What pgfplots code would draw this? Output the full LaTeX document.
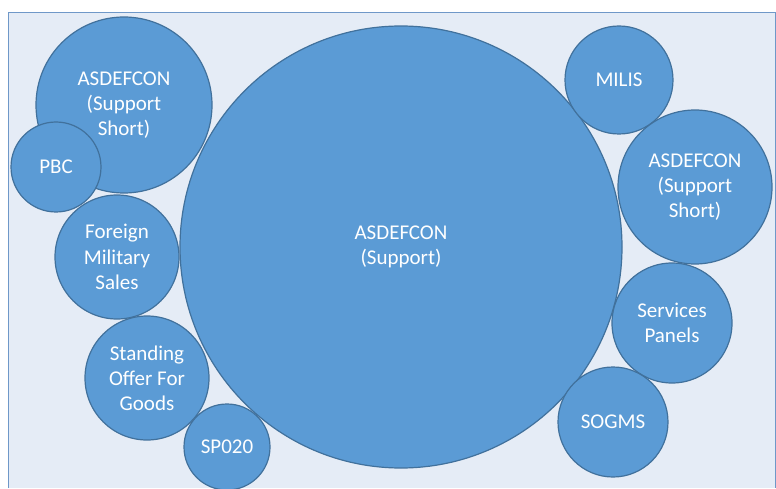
\documentclass[border=0pt]{standalone}
\usepackage{pgfplots}
\pgfplotsset{compat=1.18}
\usepackage{fontspec}
\setmainfont{Carlito}
\definecolor{bubfill}{HTML}{5B9BD5}
\definecolor{bubdraw}{HTML}{41719C}
\definecolor{bgcol}{HTML}{E5ECF6}
\definecolor{framecol}{HTML}{6F98C8}
\pgfplotsset{
  bub/.style 2 args={only marks, mark=*, mark size=#1,
    mark options={fill=bubfill, draw=bubdraw, line width=0.6pt},
    nodes near coords={#2},
    every node near coord/.append style={anchor=center, align=center,
      text=white, font=\fontsize{10.5}{12.6}\selectfont, xshift=0pt, yshift=0pt, inner sep=0pt}},
}
\begin{document}
\begin{tikzpicture}
\begin{axis}[
  name=ax,
  scale only axis, width=388pt, height=244pt,
  xmin=0, xmax=776, ymin=0, ymax=488,
  hide axis, clip marker paths=true,
]
\fill[bgcol] (axis cs:8,0) rectangle (axis cs:776,476);
\draw[framecol, line width=0.8pt] (axis cs:8.5,0) -- (axis cs:8.5,475.5) -- (axis cs:775.5,475.5) -- (axis cs:775.5,0);
% big
\addplot[bub={110.5pt}{ASDEFCON\\(Support)}] coordinates {(401,241)};
% left group
\addplot[bub={44pt}{ASDEFCON\\(Support\\Short)}] coordinates {(124,383)};
\addplot[bub={22.5pt}{PBC}] coordinates {(56,321)};
\addplot[bub={31pt}{Foreign\\Military\\Sales}] coordinates {(117,231)};
\addplot[bub={31pt}{Standing\\Offer For\\Goods}] coordinates {(147,110)};
\addplot[bub={21.5pt}{SP020}] coordinates {(227,41)};
% right group
\addplot[bub={27pt}{MILIS}] coordinates {(619,408)};
\addplot[bub={38.5pt}{ASDEFCON\\(Support\\Short)}] coordinates {(695,301)};
\addplot[bub={30pt}{Services\\Panels}] coordinates {(672,165)};
\addplot[bub={27.5pt}{SOGMS}] coordinates {(613,66)};
\end{axis}
\pgfresetboundingbox
\useasboundingbox (ax.south west) rectangle (ax.north east);
\end{tikzpicture}
\end{document}
